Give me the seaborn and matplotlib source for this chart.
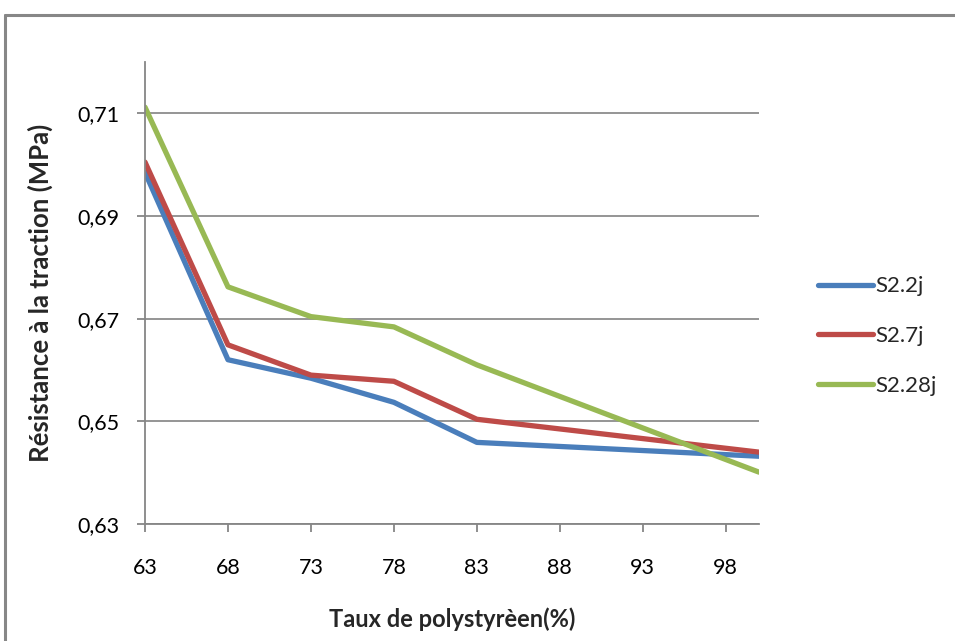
import matplotlib
matplotlib.use("Agg")
import matplotlib.pyplot as plt
import seaborn as sns
import pandas as pd
from matplotlib.lines import Line2D
from matplotlib.ticker import FuncFormatter

x_vals = [63, 68, 73, 78, 83, 100]
s_2j = [0.6985, 0.6620, 0.6584, 0.6537, 0.6459, 0.6432]
s_7j = [0.7005, 0.6649, 0.6590, 0.6578, 0.6504, 0.6440]
s_28j = [0.7112, 0.6762, 0.6704, 0.6684, 0.6610, 0.6401]
series_names = ["S2.2j", "S2.7j", "S2.28j"]
colors = ["#4A7EBB", "#BE4B48", "#98B954"]
x_ticks = [63, 68, 73, 78, 83, 88, 93, 98]
y_ticks = [0.63, 0.65, 0.67, 0.69, 0.71]

rows = []
for name, vals in zip(series_names, [s_2j, s_7j, s_28j]):
    for xv, yv in zip(x_vals, vals):
        rows.append({"x": xv, "y": yv, "serie": name})
df = pd.DataFrame(rows)

sns.set_theme(style="white")
plt.rcParams['font.family'] = ['Lato', 'DejaVu Sans']

fig = plt.figure(figsize=(9.55, 6.41), dpi=100)
ax = fig.add_axes([145/955, 1-524/641, (759-145)/955, (524-62)/641])

sns.lineplot(data=df, x="x", y="y", hue="serie", palette=colors,
             hue_order=series_names, linewidth=3.8, ax=ax, legend=True,
             sort=False)

ax.set_xlim(63, 100)
ax.set_ylim(0.63, 0.72)
ax.set_xticks(x_ticks)
ax.set_yticks(y_ticks)
ax.yaxis.set_major_formatter(FuncFormatter(lambda v, p: f"{v:.2f}".replace(".", ",")))
ax.grid(axis="y", color="#8c8c8c", linewidth=1.3)
ax.set_axisbelow(True)
for s in ["top", "right"]:
    ax.spines[s].set_visible(False)
for s in ["left", "bottom"]:
    ax.spines[s].set_color("#868686")
    ax.spines[s].set_linewidth(1.3)
ax.tick_params(axis="both", which="major", length=5.5, width=1.3, color="#868686",
               labelsize=15.5, labelcolor="#000000", direction="out")
ax.tick_params(axis="x", pad=19)
ax.tick_params(axis="y", pad=13)
ax.xaxis.set_ticks_position("bottom")
ax.yaxis.set_ticks_position("left")

ax.set_xlabel("Taux de polystyrèen(%)", fontsize=17, fontweight="bold")
ax.set_ylabel("Résistance à la traction (MPa)", fontsize=18.5, fontweight="bold")
ax.xaxis.set_label_coords(0.5, (524-607)/462)
ax.yaxis.set_label_coords((53-145)/614, 0.5)

handles, labels = ax.get_legend_handles_labels()
ax.legend_.remove()
leg = fig.legend(handles, labels, loc="center left", bbox_to_anchor=(798/955, 1-336/641),
                 frameon=False, fontsize=16, handlelength=2.48, handletextpad=0.1,
                 labelspacing=1.33)
for line in leg.get_lines():
    line.set_linewidth(3.8)

border = dict(transform=fig.transFigure, color="#878787", linewidth=2.2)
fig.add_artist(Line2D([5/955, 5/955], [0, 1-15/641], **border))
fig.add_artist(Line2D([5/955, 1.0], [1-15/641, 1-15/641], **border))

fig.savefig("out.png", dpi=100)
